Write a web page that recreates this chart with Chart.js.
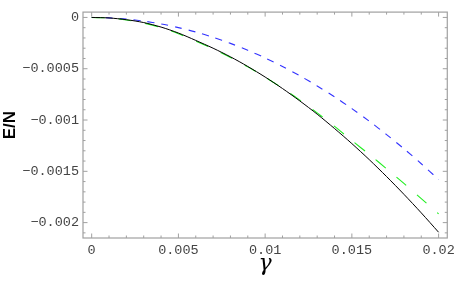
<!DOCTYPE html>
<html>
<head>
<meta charset="utf-8">
<script src="https://cdn.jsdelivr.net/npm/chart.js@4.4.0/dist/chart.umd.min.js"></script>
<style>
  html, body { margin: 0; padding: 0; background: #fff; }
  #wrap { width: 459px; height: 284px; }
</style>
</head>
<body>
<div id="wrap"><canvas id="chart"></canvas></div>
<script>
const gammaValues = [0, 0.001, 0.002, 0.003, 0.004, 0.005, 0.006, 0.007, 0.008, 0.009, 0.010,
    0.011, 0.012, 0.013, 0.014, 0.015, 0.016, 0.017, 0.018, 0.019, 0.020];
const exactEN = [0, -0.000005, -0.000022, -0.00005, -0.000094, -0.000152, -0.000224, -0.0003,
    -0.000384, -0.000478, -0.000581, -0.000693, -0.000814, -0.000943, -0.001083, -0.00123,
    -0.001386, -0.001551, -0.001724, -0.001905, -0.002094];
const approxEN = [0, -0.000006, -0.000025, -0.000055, -0.0001, -0.000159, -0.00023, -0.000306,
    -0.00039, -0.000482, -0.000582, -0.00069, -0.000806, -0.00093, -0.001062, -0.0012,
    -0.001335, -0.001475, -0.001618, -0.001766, -0.001915];
const harmonicEN = [0, -0.000004, -0.000016, -0.000036, -0.000063, -0.000099, -0.000142, -0.000194,
    -0.000253, -0.00032, -0.000395, -0.000478, -0.000569, -0.000668, -0.000774, -0.000889,
    -0.001011, -0.001142, -0.00128, -0.001426, -0.00158];

const xTicks = [0, 0.005, 0.01, 0.015, 0.02];
const xTickLabels = ["0", "0.005", "0.01", "0.015", "0.02"];
const yTicks = [0, -0.0005, -0.001, -0.0015, -0.002];
const yTickLabels = ["0", "\u22120.0005", "\u22120.001", "\u22120.0015", "\u22120.002"];

function toPoints(ys) {
    return gammaValues.map((g, i) => ({ x: g, y: ys[i] }));
}

// Mathematica-style frame with inward ticks on all four sides
const framePlugin = {
    id: "frame",
    afterDraw(chart) {
        const { ctx, chartArea: a, scales } = chart;
        const xs = scales.x, ys = scales.y;
        ctx.save();
        ctx.strokeStyle = "#a0a0a0";
        ctx.lineWidth = 1.2;
        ctx.strokeRect(a.left, a.top, a.right - a.left, a.bottom - a.top);
        ctx.lineWidth = 1;
        ctx.beginPath();
        for (let i = 0; i <= 20; i++) {
            const px = xs.getPixelForValue(i * 0.001);
            const len = i % 5 === 0 ? 4.5 : 2.5;
            ctx.moveTo(px, a.bottom); ctx.lineTo(px, a.bottom - len);
            ctx.moveTo(px, a.top); ctx.lineTo(px, a.top + len);
        }
        for (let i = 0; i <= 21; i++) {
            const py = ys.getPixelForValue(-i * 0.0001);
            const len = i % 5 === 0 ? 4.5 : 2.5;
            ctx.moveTo(a.left, py); ctx.lineTo(a.left + len, py);
            ctx.moveTo(a.right, py); ctx.lineTo(a.right - len, py);
        }
        ctx.stroke();
        ctx.restore();
    }
};

const ctx = document.getElementById("chart").getContext("2d");
new Chart(ctx, {
    type: "line",
    data: {
        datasets: [
            {
                label: "exact",
                data: toPoints(exactEN),
                borderColor: "#000000",
                borderWidth: 1,
                pointRadius: 0,
                tension: 0.3,
                fill: false
            },
            {
                label: "approx",
                data: toPoints(approxEN),
                borderColor: "#22ee22",
                borderWidth: 1.1,
                borderDash: [13, 14],
                pointRadius: 0,
                tension: 0.3,
                fill: false
            },
            {
                label: "harmonic",
                data: toPoints(harmonicEN),
                borderColor: "#3333ff",
                borderWidth: 1.1,
                borderDash: [7, 7],
                pointRadius: 0,
                tension: 0.3,
                fill: false
            }
        ]
    },
    options: {
        responsive: true,
        maintainAspectRatio: false,
        animation: false,
        layout: { padding: { top: 11, right: 8, left: 0, bottom: 0 } },
        plugins: {
            legend: { display: false },
            tooltip: { enabled: false }
        },
        scales: {
            x: {
                type: "linear",
                min: -0.0005,
                max: 0.0205,
                grid: { display: false, drawTicks: false, tickLength: 0 },
                border: { display: false },
                afterBuildTicks: scale => { scale.ticks = xTicks.map(v => ({ value: v })); },
                afterFit: scale => { scale.height = 46; },
                ticks: {
                    padding: 4,
                    maxRotation: 0,
                    autoSkip: false,
                    color: "#444",
                    font: { family: "Liberation Mono", size: 13.5 },
                    callback: (v, i) => xTickLabels[i]
                },
                title: {
                    display: true,
                    text: "\u03b3",
                    color: "#000",
                    font: { family: "DejaVu Serif", style: "italic", size: 22 },
                    padding: { top: 0, bottom: 7 }
                }
            },
            y: {
                type: "linear",
                min: -0.00215,
                max: 0.000052,
                grid: { display: false, drawTicks: false, tickLength: 0 },
                border: { display: false },
                afterBuildTicks: scale => { scale.ticks = yTicks.map(v => ({ value: v })); },
                afterFit: scale => { scale.width = 83; },
                ticks: {
                    padding: 4,
                    autoSkip: false,
                    color: "#444",
                    font: { family: "Liberation Mono", size: 13.5 },
                    callback: (v, i) => yTickLabels[i]
                },
                title: {
                    display: true,
                    text: "E/N",
                    color: "#000",
                    font: { family: "Liberation Sans", weight: "bold", size: 17 },
                    padding: { top: 0, bottom: 0 }
                }
            }
        }
    },
    plugins: [framePlugin]
});
</script>
</body>
</html>
